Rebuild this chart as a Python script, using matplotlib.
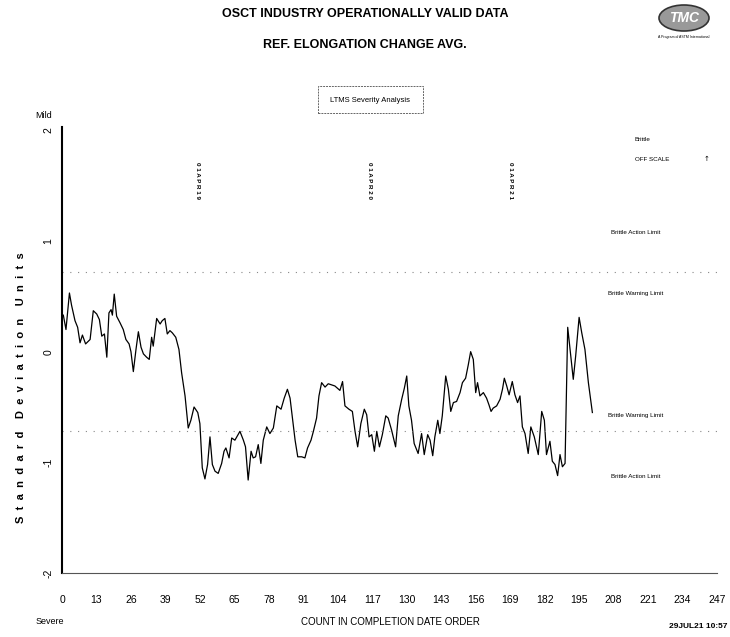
import matplotlib
matplotlib.use("Agg")
import matplotlib.pyplot as plt
from matplotlib.patches import Ellipse, Rectangle

FONT = "Liberation Sans"

# ---- data ----
count = [0.5,1.5,2.8,3.6,4.9,5.9,6.8,7.7,8.9,10.6,11.8,13.1,14.1,15,16,16.9,17.7,18.5,19,19.7,
         20.6,21.9,23.1,24.1,25.3,26,26.9,27.9,28.8,29.8,30.7,31.9,32.9,33.8,34.4,35.7,37,37.8,38.8,39.7,
         40.7,41.6,42.9,44.1,45.1,46.4,47.6,48.6,49.8,51.2,52,52.9,53.9,54.9,55.8,56.7,57.7,58.9,60.2,61.1,
         61.8,63,64,65.2,67.1,68.4,69.2,70.2,71.3,72.1,73,74,75,75.9,77.2,78.4,79.7,81,82.6,83.8,
         85,86,86.8,87.9,88.9,90.4,91.6,92.6,93.9,94.8,96,96.9,97.9,99.2,100.4,101.7,102.9,104.8,105.8,106.7,
         108.2,109.5,110.5,111.5,112.7,114,114.9,115.8,116.8,117.8,118.7,119.7,120.8,122.1,123,124.3,125.8,126.8,128.1,129.1,
         130,130.8,131.8,132.8,134.3,135.6,136.6,137.9,138.8,139.8,140.6,141.7,142.5,143.4,144.7,145.7,146.6,147.6,148.8,150.1,
         151,152.2,153.2,154.1,155.1,156,156.7,157.6,158.9,160.1,161,161.8,162.6,163.9,165.2,166.1,166.8,167.7,168.6,169.8,
         170.8,171.8,172.7,173.6,174.6,175.8,176.8,178.1,179.6,180.9,181.9,182.7,184,184.9,185.9,186.9,187.8,188.7,189.7,190.7,
         191.6,192.8,193.7,195,196,197.2,198.5,200]
sdu = [0.33,0.20,0.53,0.42,0.28,0.22,0.08,0.15,0.07,0.11,0.37,0.34,0.29,0.14,0.16,-0.05,0.35,0.38,0.33,0.52,
       0.32,0.26,0.20,0.11,0.07,0.0,-0.18,0.02,0.18,0.04,-0.02,-0.05,-0.07,0.13,0.05,0.30,0.25,0.28,0.30,0.16,
       0.19,0.17,0.13,0.02,-0.19,-0.40,-0.69,-0.62,-0.50,-0.55,-0.65,-1.05,-1.15,-1.02,-0.77,-1.02,-1.08,-1.10,-1.01,-0.90,
       -0.87,-0.96,-0.78,-0.80,-0.72,-0.80,-0.86,-1.16,-0.90,-0.96,-0.95,-0.84,-1.01,-0.80,-0.68,-0.74,-0.69,-0.49,-0.52,-0.42,
       -0.34,-0.42,-0.58,-0.80,-0.95,-0.95,-0.96,-0.87,-0.80,-0.72,-0.60,-0.40,-0.28,-0.32,-0.29,-0.30,-0.31,-0.35,-0.27,-0.49,
       -0.52,-0.54,-0.72,-0.86,-0.65,-0.52,-0.57,-0.77,-0.75,-0.90,-0.72,-0.86,-0.75,-0.58,-0.60,-0.71,-0.86,-0.58,-0.43,-0.33,
       -0.22,-0.49,-0.62,-0.83,-0.92,-0.74,-0.93,-0.75,-0.80,-0.94,-0.77,-0.62,-0.74,-0.58,-0.22,-0.34,-0.54,-0.46,-0.45,-0.37,
       -0.28,-0.24,-0.12,0.0,-0.07,-0.37,-0.28,-0.40,-0.37,-0.42,-0.48,-0.54,-0.51,-0.49,-0.43,-0.34,-0.24,-0.31,-0.39,-0.27,
       -0.39,-0.46,-0.40,-0.68,-0.74,-0.92,-0.68,-0.77,-0.93,-0.54,-0.62,-0.93,-0.81,-0.99,-1.02,-1.12,-0.93,-1.04,-1.01,0.22,
       0.02,-0.25,-0.04,0.31,0.17,0.02,-0.28,-0.55]

xticks = [0,13,26,39,52,65,78,91,104,117,130,143,156,169,182,195,208,221,234,247]
yticks = [-2,-1,0,1,2]
limits = [0.72, -0.72]
year_marks = [51, 116, 169]
year_labels = ["0 1 A P R 1 9", "0 1 A P R 2 0", "0 1 A P R 2 1"]
limit_labels = [(1.08, "Brittle Action Limit"), (0.53, "Brittle Warning Limit"),
                (-0.58, "Brittle Warning Limit"), (-1.13, "Brittle Action Limit")]

fig = plt.figure(figsize=(7.30, 6.37), dpi=100)
ax = fig.add_axes([62/730, 1-573/637, (717-62)/730, (573-127)/637])
ax.plot(count, sdu, color="black", lw=0.9)
for l in limits:
    ax.axhline(l, color="#888888", lw=0.8, ls=(0, (1, 6)))
ax.set_xlim(0, 247)
ax.set_ylim(-2, 2.03)
ax.set_xticks(xticks)
ax.set_xticklabels([str(t) for t in xticks], fontfamily=FONT, fontsize=7.5)
ax.set_yticks(yticks)
ax.set_yticklabels([str(t) for t in yticks], rotation=90, va="center", fontfamily=FONT, fontsize=7.5)
ax.tick_params(axis="x", length=0, pad=16)
ax.tick_params(axis="y", length=0, pad=6)
for s in ["top", "right"]:
    ax.spines[s].set_visible(False)
ax.spines["left"].set_linewidth(1.5)
ax.spines["bottom"].set_linewidth(0.8)
ax.spines["bottom"].set_color("#555555")

for xm, lab in zip(year_marks, year_labels):
    ax.text(xm, 1.55, lab, rotation=-90, ha="center", va="center", fontsize=4.5,
            fontfamily=FONT, fontweight="bold")

for yv, lab in limit_labels:
    ax.text(216.5, yv, lab, ha="center", va="center", fontsize=4.5, fontfamily=FONT)
ax.text(216, 1.92, "Brittle", ha="left", va="center", fontsize=4.5, fontfamily=FONT)
ax.text(216, 1.74, "OFF SCALE", ha="left", va="center", fontsize=4.5, fontfamily=FONT)
ax.text(243, 1.74, "\u2191", ha="center", va="center", fontsize=5)

fig.text(365/730, 1-14/637, "OSCT INDUSTRY OPERATIONALLY VALID DATA", ha="center", va="center",
         fontsize=9, fontweight="bold", fontfamily=FONT)
fig.text(365/730, 1-45/637, "REF. ELONGATION CHANGE AVG.", ha="center", va="center",
         fontsize=9, fontweight="bold", fontfamily=FONT)
fig.patches.append(Rectangle((318/730, 1-113/637), 105/730, 27/637, transform=fig.transFigure,
                             fill=False, ec="#666666", lw=0.7, ls=(0, (2, 1))))
fig.text(370/730, 1-100/637, "LTMS Severity Analysis", ha="center", va="center", fontsize=5.5, fontfamily=FONT)

# logo
fig.patches.append(Ellipse((684/730, 1-18/637), 50/730, 26/637, transform=fig.transFigure,
                           fc="#999999", ec="#333333", lw=1.2))
fig.text(684/730, 1-18/637, "TMC", ha="center", va="center", fontsize=10, fontweight="bold",
         fontstyle="italic", color="white", fontfamily=FONT)
fig.text(684/730, 1-37/637, "A Program of ASTM International", ha="center", va="center", fontsize=2.5,
         fontfamily=FONT)

fig.text(44/730, 1-116/637, "Mild", ha="center", va="center", fontsize=6.5, fontfamily=FONT)
fig.text(50/730, 1-622/637, "Severe", ha="center", va="center", fontsize=6.5, fontfamily=FONT)
fig.text(390/730, 1-622/637, "COUNT IN COMPLETION DATE ORDER", ha="center", va="center", fontsize=7,
         fontfamily=FONT)
fig.text(727/730, 1-627/637, "29JUL21 10:57", ha="right", va="center", fontsize=6,
         fontweight="bold", fontfamily=FONT)
ylab = "    ".join("  ".join(w) for w in ["Standard", "Deviation", "Units"])
fig.text(21/730, 1-388/637, ylab, rotation=90,
         ha="center", va="center", fontsize=8, fontweight="bold", fontfamily=FONT)

fig.savefig("out.png", dpi=100)
